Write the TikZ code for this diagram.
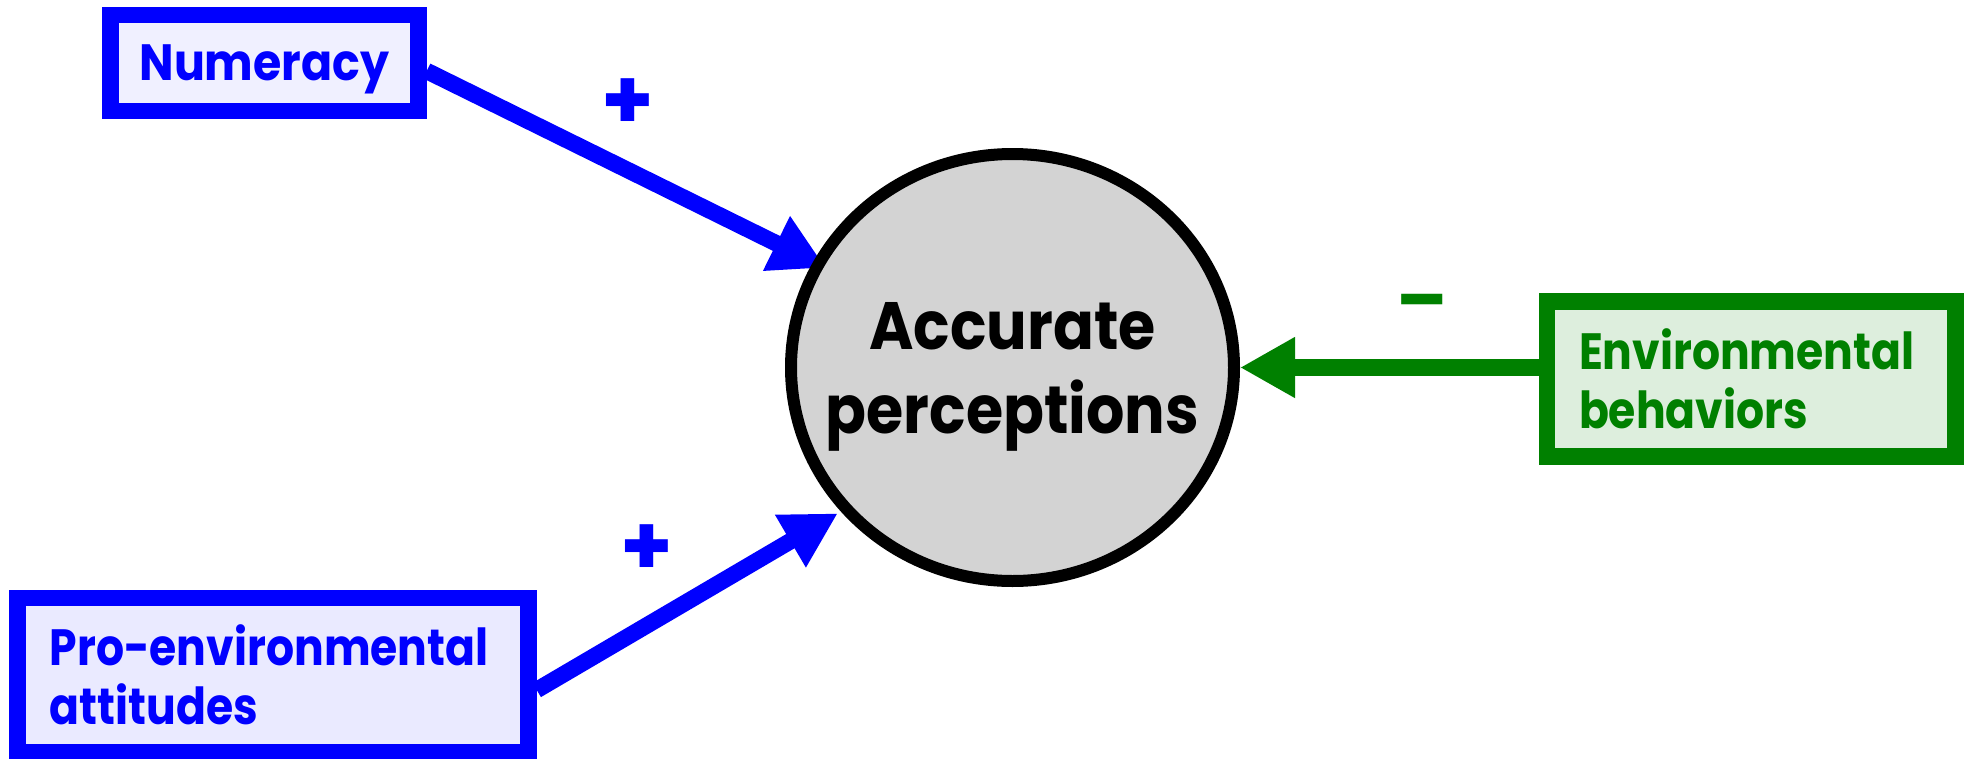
\documentclass[tikz,border=0pt]{standalone}
\usepackage{fontspec}
\setmainfont{Poppins}[FakeStretch=0.9]
\newfontfamily\boxfont{Poppins}[FakeStretch=0.865]
\newfontfamily\signfont{Poppins}
\usetikzlibrary{arrows.meta,shapes.geometric,backgrounds}
\definecolor{nblue}{RGB}{0,0,255}
\definecolor{ngreen}{RGB}{0,128,0}
\definecolor{numfill}{RGB}{240,240,255}
\definecolor{attfill}{RGB}{234,234,255}
\definecolor{envfill}{RGB}{221,238,221}
\definecolor{ellfill}{RGB}{211,211,211}
\tikzset{
  varbox/.style={draw, rectangle, line width=16.5pt, inner sep=0pt,
    font=\bfseries\fontsize{51}{59}\selectfont},
  leftbox/.style={varbox, align=left, inner xsep=32pt, text width=#1,
    font=\boxfont\bfseries\fontsize{51}{59}\selectfont},
  bluebox/.style={draw=nblue, text=nblue},
  greenbox/.style={draw=ngreen, text=ngreen, fill=envfill},
  outcome/.style={draw=black, ellipse, line width=12pt, fill=ellfill,
    inner xsep=-80pt, inner ysep=-50pt,
    minimum width=443pt, minimum height=427pt, align=center, text depth=0pt,
    font=\bfseries\fontsize{67}{80}\selectfont},
  pathline/.style={line width=16.5pt, -{Triangle[length=55pt,width=57pt]}},
  signlabel/.style={inner sep=0pt, font=\signfont\bfseries\fontsize{84}{84}\selectfont}
}
\begin{document}
\begin{tikzpicture}[x=1pt,y=-1pt]
\useasboundingbox (0,0) rectangle (1971,758);
\node[varbox, bluebox, fill=numfill, minimum width=308pt, minimum height=96pt, text depth=0pt] (num) at (264.5,63) {Numeracy};
\node[leftbox=446.8pt, bluebox, fill=attfill, minimum width=510.8pt, minimum height=154pt] (att) at (273.1,675) {\mbox{Pro-environmental}\\attitudes};
\node[leftbox=344.5pt, greenbox, minimum width=408.5pt, minimum height=155pt] (env) at (1751.25,379) {\mbox{Environmental}\\behaviors};
\node[outcome] (acc) at (1012.5,367.5) {Accurate\\[4pt]perceptions};
\begin{pgfonlayer}{background}
\draw[pathline, draw=nblue, fill=nblue, shorten >=-14pt] ([yshift=-8pt]num.east) -- (acc.152.65);
\draw[pathline, draw=nblue, fill=nblue, shorten >=3.5pt] ([yshift=-15pt]att.east) -- (acc.220.7);
\draw[pathline, draw=ngreen, fill=ngreen] ([yshift=11.5pt]env.west) -- (acc.east);
\end{pgfonlayer}
\node[signlabel, text=nblue] (plusA) at (628,104) {+};
\node[signlabel, text=nblue] (plusB) at (646.5,550.5) {+};
\node[signlabel, text=ngreen, font=\signfont\bfseries\fontsize{74}{74}\selectfont] (minusC) at (1422,309.5) {–};
\end{tikzpicture}
\end{document}
